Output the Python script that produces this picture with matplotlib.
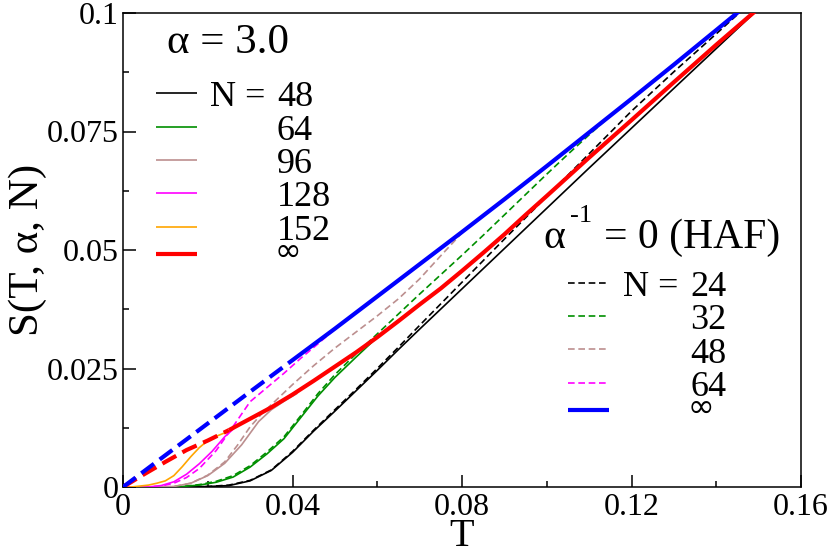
import matplotlib
matplotlib.use("Agg")
import glob
import matplotlib.pyplot as plt
from matplotlib import font_manager
from matplotlib.lines import Line2D
from matplotlib.ticker import FixedLocator, FixedFormatter, MultipleLocator

_files = []
for pat in ['/usr/share/fonts/**/LiberationSerif*.ttf', '/usr/local/share/fonts/**/LiberationSerif*.ttf']:
    _files += glob.glob(pat, recursive=True)
for f in set(_files):
    try:
        font_manager.fontManager.addfont(f)
    except Exception:
        pass
plt.rcParams['font.family'] = ['Liberation Serif', 'DejaVu Serif']

# ---------------- data ----------------
# alpha = 3.0, finite N (solid thin)
T_a48 = [0, 0.012, 0.016, 0.02, 0.025, 0.03, 0.035, 0.04, 0.045, 0.05, 0.055, 0.06, 0.065, 0.07,
         0.08, 0.09, 0.10, 0.11, 0.12, 0.13, 0.14, 0.15]
S_a48 = [0, 0, 0.00003, 0.0001, 0.0003, 0.0013, 0.0035, 0.0073, 0.0118, 0.0160, 0.0203, 0.0246,
         0.0290, 0.0333, 0.0418, 0.0503, 0.0588, 0.0673, 0.0757, 0.0841, 0.0925, 0.1009]

T_a64 = [0, 0.01, 0.014, 0.018, 0.022, 0.026, 0.03, 0.034, 0.038, 0.042, 0.046, 0.05, 0.055, 0.06,
         0.065, 0.068]
S_a64 = [0, 0, 0.0001, 0.0004, 0.001, 0.0021, 0.0042, 0.007, 0.0102, 0.0147, 0.0192, 0.0231, 0.0274,
         0.0316, 0.0352, 0.0371]

T_a96 = [0, 0.008, 0.012, 0.016, 0.02, 0.024, 0.028, 0.032, 0.035, 0.038, 0.041]
S_a96 = [0, 0, 0.0001, 0.0008, 0.0024, 0.005, 0.0089, 0.0138, 0.0163, 0.0181, 0.0197]

T_a128 = [0, 0.006, 0.009, 0.012, 0.015, 0.018, 0.021, 0.024, 0.026]
S_a128 = [0, 0, 0.0003, 0.0011, 0.0027, 0.0049, 0.0075, 0.0106, 0.0122]

T_a152 = [0, 0.002, 0.004, 0.006, 0.008, 0.01, 0.012, 0.014, 0.016, 0.018, 0.02, 0.022, 0.0245]
S_a152 = [0, 0, 0.0002, 0.0004, 0.0008, 0.0013, 0.0024, 0.0043, 0.0064, 0.0083, 0.0098, 0.0107, 0.0116]

# alpha = 3.0, N = infinity (thick red; dashed at low T)
T_ainf_dash = [0, 0.005, 0.01, 0.015, 0.02, 0.025]
S_ainf_dash = [0, 0.0027, 0.0053, 0.0078, 0.0098, 0.012]
T_ainf = [0.025, 0.03, 0.035, 0.04, 0.045, 0.05, 0.055, 0.06, 0.065, 0.07, 0.075, 0.08, 0.085,
          0.09, 0.095, 0.10, 0.11, 0.12, 0.13, 0.14, 0.15]
S_ainf = [0.012, 0.0144, 0.0168, 0.0195, 0.0224, 0.0254, 0.0284, 0.0316, 0.035, 0.0385, 0.0419,
          0.0456, 0.0494, 0.0533, 0.0574, 0.0614, 0.0695, 0.0774, 0.0854, 0.0933, 0.101]

# HAF (alpha^-1 = 0), finite N (dashed thin)
T_h24 = [0, 0.012, 0.016, 0.02, 0.025, 0.03, 0.035, 0.04, 0.045, 0.05, 0.055, 0.06, 0.065, 0.07,
         0.08, 0.09, 0.10, 0.11, 0.12, 0.13, 0.14, 0.147]
S_h24 = [0, 0, 0.00003, 0.0001, 0.0004, 0.0014, 0.0036, 0.0075, 0.0120, 0.0163, 0.0206, 0.0250,
         0.0295, 0.0341, 0.0432, 0.0523, 0.0613, 0.0703, 0.0793, 0.0876, 0.0956, 0.1013]

T_h32 = [0, 0.01, 0.014, 0.018, 0.022, 0.026, 0.03, 0.034, 0.038, 0.042, 0.046, 0.05, 0.055, 0.06,
         0.065, 0.07, 0.075, 0.08, 0.085, 0.09, 0.095, 0.10, 0.105, 0.11, 0.115, 0.12, 0.13, 0.14, 0.146]
S_h32 = [0, 0, 0.0001, 0.0005, 0.0012, 0.0024, 0.0045, 0.0074, 0.0106, 0.0151, 0.0197, 0.0237,
         0.0281, 0.0323, 0.0365, 0.0407, 0.0448, 0.0489, 0.0531, 0.0574, 0.0617, 0.0660, 0.0702,
         0.0743, 0.0783, 0.0820, 0.0892, 0.0964, 0.1008]

T_h48 = [0, 0.008, 0.012, 0.016, 0.02, 0.024, 0.027, 0.03, 0.033, 0.036, 0.04, 0.045, 0.05, 0.055,
         0.06, 0.065, 0.07, 0.075, 0.08]
S_h48 = [0, 0, 0.0001, 0.0008, 0.0025, 0.0053, 0.0088, 0.0127, 0.0157, 0.0182, 0.0216, 0.0256,
         0.0293, 0.0327, 0.0361, 0.0397, 0.0439, 0.0488, 0.0536]

T_h64 = [0, 0.006, 0.009, 0.012, 0.015, 0.018, 0.022, 0.026, 0.03, 0.034, 0.038, 0.042, 0.046, 0.05]
S_h64 = [0, 0, 0.0002, 0.0008, 0.002, 0.0039, 0.0077, 0.0128, 0.0180, 0.0210, 0.0240, 0.0272,
         0.0302, 0.0333]

# HAF, N = infinity (thick blue; dashed at low T)
T_hinf_dash = [0, 0.01, 0.02, 0.03, 0.039]
S_hinf_dash = [0, 0.0067, 0.0134, 0.0201, 0.0261]
T_hinf = [0.039, 0.05, 0.06, 0.07, 0.08, 0.09, 0.10, 0.11, 0.12, 0.13, 0.14, 0.146]
S_hinf = [0.0261, 0.0334, 0.0402, 0.047, 0.0538, 0.0607, 0.0677, 0.0748, 0.0819, 0.0891, 0.0964, 0.1008]

x_ticks = [0, 0.04, 0.08, 0.12, 0.16]
x_tick_labels = ["0", "0.04", "0.08", "0.12", "0.16"]
y_ticks = [0, 0.025, 0.05, 0.075, 0.1]
y_tick_labels = ["0", "0.025", "0.05", "0.075", "0.1"]

legend_a_labels = ["48", "64", "96", "128", "152", "\u221e"]
legend_h_labels = ["24", "32", "48", "64", "\u221e"]

# ---------------- styles ----------------
BLACK = '#000000'
GREEN = '#008F00'
BROWN = '#BC8F8F'
MAGENTA = '#FF00FF'
ORANGE = '#FFA500'
RED = '#FF0000'
BLUE = '#0000FF'
THIN = 1.2
THICK = 3.0
DASH_THIN = (4, 2.2)
DASH_THICK = (3.8, 1.7)

W, H = 830, 553
fig = plt.figure(figsize=(W / 100, H / 100), dpi=100)
ax_l, ax_r, ax_t, ax_b = 123, 801, 13, 487
ax = fig.add_axes([ax_l / W, 1 - ax_b / H, (ax_r - ax_l) / W, (ax_b - ax_t) / H])

for T, S, c in [(T_h24, S_h24, BLACK), (T_h32, S_h32, GREEN), (T_h48, S_h48, BROWN),
                (T_h64, S_h64, MAGENTA)]:
    ax.plot(T, S, color=c, lw=THIN, dashes=DASH_THIN, zorder=2)

for T, S, c in [(T_a48, S_a48, BLACK), (T_a64, S_a64, GREEN), (T_a96, S_a96, BROWN),
                (T_a128, S_a128, MAGENTA), (T_a152, S_a152, ORANGE)]:
    ax.plot(T, S, color=c, lw=THIN, zorder=3)

ax.plot(T_ainf_dash, S_ainf_dash, color=RED, lw=THICK, dashes=DASH_THICK, zorder=4)
ax.plot(T_ainf, S_ainf, color=RED, lw=THICK, zorder=4, solid_capstyle='butt')
ax.plot(T_hinf_dash, S_hinf_dash, color=BLUE, lw=THICK, dashes=DASH_THICK, zorder=5)
ax.plot(T_hinf, S_hinf, color=BLUE, lw=THICK, zorder=5, solid_capstyle='butt')

ax.set_xlim(0, 0.16)
ax.set_ylim(0, 0.1)
ax.xaxis.set_major_locator(FixedLocator(x_ticks))
ax.xaxis.set_major_formatter(FixedFormatter(x_tick_labels))
ax.yaxis.set_major_locator(FixedLocator(y_ticks))
ax.yaxis.set_major_formatter(FixedFormatter(y_tick_labels))
ax.xaxis.set_minor_locator(MultipleLocator(0.02))
ax.yaxis.set_minor_locator(MultipleLocator(0.0125))
ax.tick_params(which='both', direction='in', top=False, right=False, width=1.1)
ax.tick_params(which='major', length=9, labelsize=23)
ax.tick_params(axis='x', which='major', pad=4)
ax.tick_params(axis='y', which='major', pad=3)
ax.tick_params(which='minor', length=4.5)
for sp in ax.spines.values():
    sp.set_linewidth(1.1)

ax.set_xlabel("T", fontsize=29)
ax.xaxis.set_label_coords(0.5, -0.066)
ax.set_ylabel("S(T, \u03b1, N)", fontsize=31)
ax.yaxis.set_label_coords(-0.112, 0.5)


def F(px, py):
    return (px / W, 1 - py / H)


def ftext(px, py, s, size, **kw):
    x, y = F(px, py)
    fig.text(x, y, s, fontsize=size, ha='left', va='baseline', **kw)


def fline(x0, x1, py, **kw):
    (a, y), (b, _) = F(x0, py), F(x1, py)
    fig.add_artist(Line2D([a, b], [y, y], transform=fig.transFigure, **kw))


ftext(167, 53, "\u03b1 = 3.0", 31)
rows1 = [93.3, 126.7, 160, 193.3, 226.7, 254.3]
cols1 = [BLACK, GREEN, BROWN, MAGENTA, ORANGE, RED]
for i, (py, c, lab) in enumerate(zip(rows1, cols1, legend_a_labels)):
    thick = (i == len(rows1) - 1)
    fline(156, 197, py, color=c, lw=THICK if thick else THIN, solid_capstyle='butt')
    if i == 0:
        ftext(210, py + 13, "N =", 26)
    if thick:
        ftext(275, 261, lab, 23, family='DejaVu Sans')
    else:
        ftext(277, py + 13, lab, 26)

ftext(543, 248, "\u03b1", 30)
ftext(570, 222, "-1", 19)
ftext(604, 248, "= 0 (HAF)", 30)
rows2 = [282.7, 316, 349.3, 382.7, 410]
cols2 = [BLACK, GREEN, BROWN, MAGENTA, BLUE]
for i, (py, c, lab) in enumerate(zip(rows2, cols2, legend_h_labels)):
    thick = (i == len(rows2) - 1)
    if thick:
        fline(568, 609, py, color=c, lw=THICK, solid_capstyle='butt')
        ftext(688, 417, lab, 23, family='DejaVu Sans')
    else:
        fline(568, 609, py, color=c, lw=THIN, dashes=DASH_THIN)
        ftext(690, py + 13.3, lab, 26)
    if i == 0:
        ftext(623, py + 13.3, "N =", 26)

fig.savefig("out.png", dpi=100)
